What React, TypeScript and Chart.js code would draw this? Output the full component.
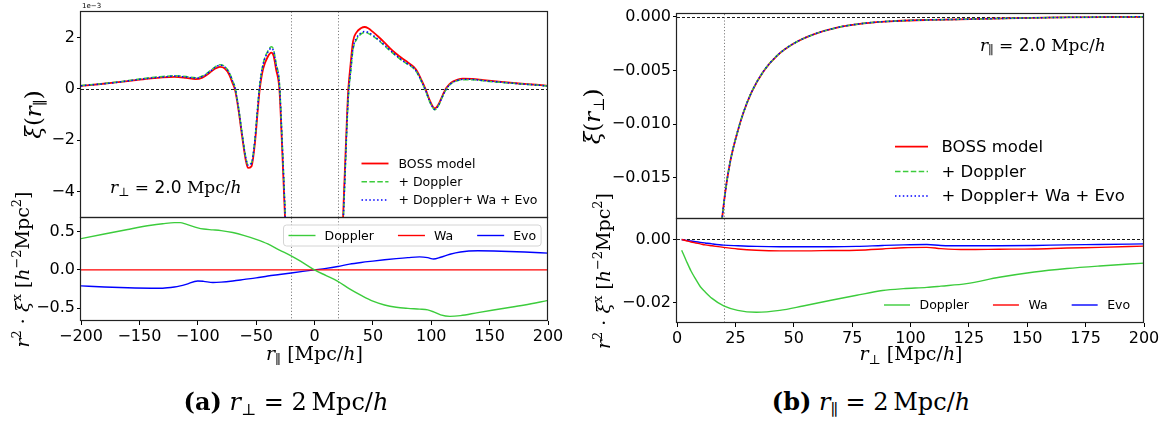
import React, { useEffect, useRef } from "react";
import { Chart, registerables } from "chart.js";

Chart.register(...registerables);
Chart.defaults.font.family = '"DejaVu Sans"';

// ---------- (a) upper panel: xi(r_par) at r_perp = 2 Mpc/h (values x 1e-3) ----------
const parR = [
  -200, -185, -170, -155, -140, -130, -120, -110, -102, -96,
  -90, -85, -81, -77, -73, -70, -68, -65, -62, -59,
  -57, -54, -51, -49, -47, -44, -40, -37, -35, -33,
  -30, -28, -25, -20, -10, 0, 10, 20, 24, 26,
  28, 29, 31, 33, 36, 40, 43, 46, 50, 55,
  60, 65, 70, 75, 80, 85, 88, 91, 95, 99,
  103, 106, 110, 113, 117, 122, 127, 135, 145, 160,
  175, 190, 200,
];
const parBoss = [
  0.12, 0.18, 0.25, 0.33, 0.41, 0.45, 0.47, 0.43, 0.38, 0.44,
  0.62, 0.79, 0.86, 0.8, 0.55, 0.2, -0.05, -0.85, -1.85, -2.75,
  -3.08, -3.02, -2.1, -1.05, -0.05, 0.78, 1.25, 1.41, 1.28, 0.78,
  -0.05, -2.0, -5.3, -12, -30, -40, -30, -12, -5.6, -3.2,
  -0.9, 0.0, 1.0, 1.85, 2.2, 2.37, 2.41, 2.36, 2.22, 2.02,
  1.8, 1.57, 1.37, 1.19, 1.03, 0.86, 0.68, 0.4, 0.0, -0.48,
  -0.76, -0.62, -0.22, 0.04, 0.24, 0.35, 0.4, 0.39, 0.34, 0.27,
  0.21, 0.16, 0.12,
];
const parDoppler = [
  0.13, 0.19, 0.26, 0.35, 0.44, 0.48, 0.51, 0.48, 0.43, 0.5,
  0.68, 0.86, 0.94, 0.88, 0.64, 0.3, 0.05, -0.75, -1.74, -2.63,
  -2.95, -2.88, -1.95, -0.88, 0.13, 0.98, 1.47, 1.64, 1.52, 1.02,
  0.2, -1.7, -5.0, -11.6, -29, -40, -31, -12.4, -6.0, -3.6,
  -1.25, -0.35, 0.65, 1.52, 1.92, 2.14, 2.2, 2.16, 2.05, 1.88,
  1.68, 1.47, 1.28, 1.1, 0.95, 0.79, 0.61, 0.34, -0.06, -0.54,
  -0.81, -0.67, -0.27, -0.01, 0.2, 0.31, 0.36, 0.36, 0.31, 0.25,
  0.2, 0.15, 0.11,
];
const parFull = [
  0.12, 0.18, 0.25, 0.34, 0.42, 0.46, 0.5, 0.46, 0.42, 0.48,
  0.66, 0.84, 0.92, 0.86, 0.62, 0.28, 0.03, -0.77, -1.76, -2.65,
  -2.97, -2.9, -1.97, -0.9, 0.11, 0.95, 1.43, 1.58, 1.46, 0.96,
  0.14, -1.8, -5.1, -11.7, -29, -40, -31, -12.3, -5.9, -3.5,
  -1.15, -0.25, 0.72, 1.58, 1.98, 2.19, 2.24, 2.2, 2.09, 1.91,
  1.71, 1.5, 1.3, 1.12, 0.97, 0.81, 0.63, 0.36, -0.04, -0.52,
  -0.8, -0.66, -0.26, 0.0, 0.21, 0.32, 0.37, 0.37, 0.32, 0.26,
  0.2, 0.15, 0.11,
];

// ---------- (a) lower panel: r^2 xi^x contributions vs r_par ----------
const parDiffR = [
  -200, -180, -160, -140, -130, -120, -115, -110, -100, -95,
  -87, -80, -70, -60, -50, -40, -30, -20, -10, 0,
  10, 20, 30, 40, 50, 60, 70, 80, 90, 97,
  102, 108, 116, 125, 140, 160, 180, 200,
];
const parDiffDoppler = [
  0.41, 0.47, 0.53, 0.585, 0.605, 0.62, 0.62, 0.6, 0.55, 0.535,
  0.525, 0.515, 0.49, 0.45, 0.4, 0.34, 0.26, 0.185, 0.095, 0,
  -0.075, -0.15, -0.25, -0.335, -0.41, -0.46, -0.49, -0.505, -0.515, -0.525,
  -0.55, -0.59, -0.61, -0.6, -0.56, -0.51, -0.46, -0.4,
];
const parDiffWa = [
  0, 0, 0, 0, 0, 0, 0, 0, 0, 0,
  0, 0, 0, 0, 0, 0, 0, 0, 0, 0,
  0, 0, 0, 0, 0, 0, 0, 0, 0, 0,
  0, 0, 0, 0, 0, 0, 0, 0,
];
const parDiffEvo = [
  -0.21, -0.225, -0.235, -0.24, -0.24, -0.225, -0.21, -0.19, -0.145, -0.15,
  -0.165, -0.16, -0.145, -0.125, -0.105, -0.08, -0.06, -0.04, -0.02, 0,
  0.02, 0.045, 0.075, 0.097, 0.115, 0.132, 0.147, 0.16, 0.17, 0.16,
  0.142, 0.165, 0.205, 0.235, 0.25, 0.245, 0.235, 0.22,
];

// ---------- (b) upper panel: xi(r_perp) at r_par = 2 Mpc/h ----------
const perpR = [19.2, 20.7, 22.8, 25.7, 28.5, 32, 37, 43, 50, 58.5, 68.5, 80, 94, 108, 121, 140, 164, 185, 200];
const perpBoss = [
  -0.019, -0.0163, -0.0135, -0.0109, -0.0089, -0.007, -0.0051, -0.0036, -0.0025, -0.00165,
  -0.00102, -0.00062, -0.0004, -0.0003, -0.00025, -0.00016, -0.00007, -0.00003, -0.00001,
];
const perpDoppler = [
  -0.019, -0.0163, -0.0135, -0.0109, -0.0089, -0.007, -0.0051, -0.0036, -0.0025, -0.00165,
  -0.00102, -0.00062, -0.0004, -0.0003, -0.00025, -0.00016, -0.00007, -0.00003, -0.00001,
];
const perpFull = [
  -0.019, -0.0163, -0.0135, -0.0109, -0.0089, -0.007, -0.0051, -0.0036, -0.0025, -0.00165,
  -0.00102, -0.00062, -0.0004, -0.0003, -0.00025, -0.00016, -0.00007, -0.00003, -0.00001,
];

// ---------- (b) lower panel ----------
const perpDiffR = [2, 4, 6, 8, 10, 12, 15, 20, 26, 34, 44, 54, 66, 77, 88, 97, 107, 113, 124, 138, 153, 167, 181, 200];
const perpDiffDoppler = [
  -0.0034, -0.0068, -0.01, -0.0126, -0.015, -0.0166, -0.0187, -0.0211, -0.0225, -0.0231,
  -0.0225, -0.0211, -0.0193, -0.0177, -0.0162, -0.0156, -0.0152, -0.0148, -0.014, -0.012,
  -0.0103, -0.0092, -0.0084, -0.0075,
];
const perpDiffWa = [
  0, -0.0004, -0.0008, -0.0011, -0.0014, -0.0017, -0.002, -0.0025, -0.003, -0.0034,
  -0.0036, -0.0036, -0.0035, -0.0034, -0.003, -0.0026, -0.0025, -0.0029, -0.0032, -0.0031,
  -0.003, -0.0027, -0.0025, -0.0021,
];
const perpDiffEvo = [
  0, -0.0003, -0.0005, -0.0007, -0.0009, -0.0011, -0.0014, -0.0018, -0.002, -0.0022,
  -0.0023, -0.0023, -0.0023, -0.0022, -0.0019, -0.0017, -0.0016, -0.0019, -0.002, -0.002,
  -0.0019, -0.0017, -0.0016, -0.0014,
];

// ---------- ticks and labels ----------
const parXTicks = [-200, -150, -100, -50, 0, 50, 100, 150, 200];
const perpXTicks = [0, 25, 50, 75, 100, 125, 150, 175, 200];
const parTopYTicks = [-4, -2, 0, 2];
const parBotYTicks = [-0.5, 0, 0.5];
const perpTopYTicks = [-0.015, -0.01, -0.005, 0];
const perpBotYTicks = [-0.02, 0];
const topLegend = ["BOSS model", "+ Doppler", "+ Doppler+ Wa + Evo"];
const botLegend = ["Doppler", "Wa", "Evo"];

// ---------- styling ----------
const RED = "#ff0000";
const GREEN = "#3ccc3c";
const BLUE = "#0000ff";
const SERIF = '"DejaVu Serif"';
const SANS = '"DejaVu Sans"';
const fnt = (size: number, italic = false, fam = SERIF) => `${italic ? "italic " : ""}${size}px ${fam}`;
const minus = (s: string) => s.replace("-", "\u2212");

type Seg = { t: string; f: string; dy?: number };
type TextItem = { segs: Seg[]; x: number; y: number; rot?: boolean; align?: "left" | "center" };
type Legend = {
  mode: "col" | "row"; x: number; y: number; lineLen: number; textGap: number;
  rowH?: number; itemGap?: number; font: string; frame?: boolean;
};
type Decor = { hLines: number[]; vLines: number[]; legend: Legend; texts: TextItem[] };
type PanelCfg = {
  left: number; top: number; W: number; H: number;
  plot: { l: number; t: number; r: number; b: number };
  xMin: number; xMax: number; xTicks: number[] | null; xFmt: (v: number) => string;
  yMin: number; yMax: number; yTicks: number[]; yFmt: (v: number) => string;
  datasets: any[]; decor: Decor;
};

const pts = (xs: number[], ys: number[]) => xs.map((x, i) => ({ x, y: ys[i] }));

function topSets(xs: number[], a: number[], b: number[], c: number[]) {
  return [
    { label: topLegend[0], data: pts(xs, a), borderColor: RED, borderWidth: 1.8, borderDash: [], order: 3 },
    { label: topLegend[1], data: pts(xs, b), borderColor: GREEN, borderWidth: 1.5, borderDash: [5.5, 2.4], order: 2 },
    { label: topLegend[2], data: pts(xs, c), borderColor: BLUE, borderWidth: 1.5, borderDash: [1.5, 2.4], order: 1 },
  ].map((d) => ({ ...d, pointRadius: 0, fill: false, cubicInterpolationMode: "monotone" }));
}
function botSets(xs: number[], a: number[], b: number[], c: number[]) {
  return [
    { label: botLegend[0], data: pts(xs, a), borderColor: GREEN, borderWidth: 1.4, borderDash: [] },
    { label: botLegend[1], data: pts(xs, b), borderColor: RED, borderWidth: 1.4, borderDash: [] },
    { label: botLegend[2], data: pts(xs, c), borderColor: BLUE, borderWidth: 1.4, borderDash: [] },
  ].map((d) => ({ ...d, pointRadius: 0, fill: false, cubicInterpolationMode: "monotone" }));
}

function drawSegs(ctx: CanvasRenderingContext2D, it: TextItem) {
  ctx.save();
  ctx.translate(it.x, it.y);
  if (it.rot) ctx.rotate(-Math.PI / 2);
  ctx.fillStyle = "#000";
  ctx.textBaseline = "alphabetic";
  ctx.textAlign = "left";
  let total = 0;
  for (const s of it.segs) { ctx.font = s.f; total += ctx.measureText(s.t).width; }
  let cx = it.align === "center" ? -total / 2 : 0;
  for (const s of it.segs) {
    ctx.font = s.f;
    ctx.fillText(s.t, cx, s.dy || 0);
    cx += ctx.measureText(s.t).width;
  }
  ctx.restore();
}

function makeDecor(cfg: PanelCfg) {
  const d = cfg.decor;
  return {
    id: "decor",
    beforeDatasetsDraw(chart: any) {
      const { ctx, chartArea: a } = chart;
      const xs = chart.scales.x, ys = chart.scales.y;
      ctx.save();
      ctx.beginPath();
      ctx.rect(a.left, a.top, a.right - a.left, a.bottom - a.top);
      ctx.clip();
      for (const v of d.hLines) {
        const py = Math.round(ys.getPixelForValue(v)) + 0.5;
        ctx.beginPath();
        ctx.setLineDash([3, 2]);
        ctx.strokeStyle = "#000";
        ctx.lineWidth = 0.9;
        ctx.moveTo(a.left, py);
        ctx.lineTo(a.right, py);
        ctx.stroke();
      }
      for (const v of d.vLines) {
        const px = Math.round(xs.getPixelForValue(v)) + 0.5;
        ctx.beginPath();
        ctx.setLineDash([1.2, 2]);
        ctx.strokeStyle = "#808080";
        ctx.lineWidth = 1;
        ctx.moveTo(px, a.top);
        ctx.lineTo(px, a.bottom);
        ctx.stroke();
      }
      ctx.restore();
    },
    afterDraw(chart: any) {
      const { ctx, chartArea: a } = chart;
      ctx.save();
      // frame (all edges on the same half-pixel convention so shared edges coincide)
      ctx.setLineDash([]);
      ctx.strokeStyle = "#222";
      ctx.lineWidth = 1.2;
      const L = Math.round(a.left) - 0.5, T = Math.round(a.top) - 0.5;
      const R = Math.round(a.right) - 0.5, B = Math.round(a.bottom) - 0.5;
      ctx.strokeRect(L, T, R - L, B - T);
      // move to absolute page coordinates
      ctx.translate(-cfg.left, -cfg.top);
      // legend
      const lg = d.legend;
      const items = chart.data.datasets;
      ctx.font = lg.font;
      ctx.textBaseline = "middle";
      ctx.textAlign = "left";
      if (lg.frame) {
        let w = 0;
        items.forEach((it: any, i: number) => {
          w += lg.lineLen + lg.textGap + ctx.measureText(it.label).width + (i < items.length - 1 ? lg.itemGap || 0 : 0);
        });
        const fx = lg.x - 5, fy = lg.y - 10.5, fw = w + 10, fh = 21, r = 3;
        ctx.beginPath();
        ctx.moveTo(fx + r, fy);
        ctx.arcTo(fx + fw, fy, fx + fw, fy + fh, r);
        ctx.arcTo(fx + fw, fy + fh, fx, fy + fh, r);
        ctx.arcTo(fx, fy + fh, fx, fy, r);
        ctx.arcTo(fx, fy, fx + fw, fy, r);
        ctx.closePath();
        ctx.fillStyle = "rgba(255,255,255,0.8)";
        ctx.fill();
        ctx.strokeStyle = "#d4d4d4";
        ctx.lineWidth = 1;
        ctx.stroke();
      }
      let x = lg.x, y = lg.y;
      items.forEach((it: any) => {
        ctx.beginPath();
        ctx.setLineDash(it.borderDash || []);
        ctx.strokeStyle = it.borderColor;
        ctx.lineWidth = it.borderWidth;
        ctx.moveTo(x, y);
        ctx.lineTo(x + lg.lineLen, y);
        ctx.stroke();
        ctx.setLineDash([]);
        ctx.fillStyle = "#000";
        ctx.fillText(it.label, x + lg.lineLen + lg.textGap, y + 1);
        if (lg.mode === "row") x += lg.lineLen + lg.textGap + ctx.measureText(it.label).width + (lg.itemGap || 0);
        else y += lg.rowH || 18;
      });
      for (const t of d.texts) drawSegs(ctx, t);
      ctx.restore();
    },
  };
}

function buildConfig(cfg: PanelCfg): any {
  const showX = !!cfg.xTicks;
  const l = cfg.plot.l - cfg.left, t = cfg.plot.t - cfg.top;
  const r = cfg.plot.r - cfg.left, b = cfg.plot.b - cfg.top;
  const tickFont = { family: '"DejaVu Sans"', size: 16 };
  const grid = { display: true, drawOnChartArea: false, drawTicks: true, tickLength: 4, color: "#000", lineWidth: 1 };
  return {
    type: "line",
    data: { datasets: cfg.datasets },
    options: {
      animation: false,
      responsive: false,
      maintainAspectRatio: false,
      events: [],
      layout: { padding: { left: 0, top: t, right: cfg.W - r, bottom: showX ? 0 : cfg.H - b } },
      plugins: { legend: { display: false }, tooltip: { enabled: false } },
      scales: {
        x: {
          type: "linear", min: cfg.xMin, max: cfg.xMax, display: showX,
          afterBuildTicks: (s: any) => { s.ticks = (cfg.xTicks || []).map((v) => ({ value: v })); },
          afterFit: (s: any) => { s.height = showX ? cfg.H - b : 0; },
          ticks: { font: tickFont, color: "#000", padding: 2, maxRotation: 0, autoSkip: false, callback: (v: any) => cfg.xFmt(Number(v)) },
          grid, border: { display: false },
        },
        y: {
          type: "linear", min: cfg.yMin, max: cfg.yMax,
          afterBuildTicks: (s: any) => { s.ticks = cfg.yTicks.map((v) => ({ value: v })); },
          afterFit: (s: any) => { s.width = l; },
          ticks: { font: tickFont, color: "#000", padding: 2, autoSkip: false, callback: (v: any) => cfg.yFmt(Number(v)) },
          grid, border: { display: false },
        },
      },
    },
    plugins: [makeDecor(cfg)],
  };
}

// ---------- text pieces ----------
const annot = (sub: string, x: number, y: number): TextItem => ({
  x, y, segs: [
    { t: "r", f: fnt(17, true) }, { t: sub, f: fnt(12), dy: 3 }, { t: " = ", f: fnt(17) },
    { t: "2.0", f: fnt(17, false, SANS) }, { t: " Mpc/", f: fnt(17) }, { t: "h", f: fnt(17, true) },
  ],
});
const xiTitle = (sub: string, x: number, y: number): TextItem => ({
  x, y, rot: true, align: "center", segs: [
    { t: "\u03be", f: fnt(23, true) }, { t: "(", f: fnt(23) }, { t: "r", f: fnt(23, true) },
    { t: sub, f: fnt(15), dy: 4 }, { t: ")", f: fnt(23) },
  ],
});
const diffTitle = (x: number, y: number): TextItem => ({
  x, y, rot: true, align: "center", segs: [
    { t: "r", f: fnt(19, true) }, { t: "2", f: fnt(13), dy: -8 }, { t: " \u00b7 ", f: fnt(19) },
    { t: "\u03be", f: fnt(19, true) }, { t: "x", f: fnt(13), dy: -8 }, { t: " [", f: fnt(19) },
    { t: "h", f: fnt(19, true) }, { t: "\u22122", f: fnt(13), dy: -8 }, { t: "Mpc", f: fnt(19) },
    { t: "2", f: fnt(13), dy: -8 }, { t: "]", f: fnt(19) },
  ],
});
const xTitle = (sub: string, x: number, y: number): TextItem => ({
  x, y, align: "center", segs: [
    { t: "r", f: fnt(19, true) }, { t: sub, f: fnt(13), dy: 4 }, { t: " [Mpc/", f: fnt(19) },
    { t: "h", f: fnt(19, true) }, { t: "]", f: fnt(19) },
  ],
});

const panels: PanelCfg[] = [
  {
    left: 0, top: 0, W: 580, H: 232, plot: { l: 81, t: 11, r: 548, b: 218 },
    xMin: -200, xMax: 200, xTicks: null, xFmt: (v) => minus(String(v)),
    yMin: -5.03, yMax: 3.01, yTicks: parTopYTicks, yFmt: (v) => minus(String(v)),
    datasets: topSets(parR, parBoss, parDoppler, parFull),
    decor: {
      hLines: [0], vLines: [-20, 20],
      legend: { mode: "col", x: 361.5, y: 163.5, rowH: 18.3, lineLen: 27, textGap: 10, font: fnt(12.5, false, SANS) },
      texts: [
        annot("\u22a5", 110, 193),
        xiTitle("\u2225", 41, 114.5),
        { x: 82, y: 8, segs: [{ t: "1e\u22123", f: fnt(7, false, SANS) }] },
      ],
    },
  },
  {
    left: 0, top: 150, W: 580, H: 230, plot: { l: 81, t: 218, r: 548, b: 321 },
    xMin: -200, xMax: 200, xTicks: parXTicks, xFmt: (v) => minus(String(v)),
    yMin: -0.67, yMax: 0.68, yTicks: parBotYTicks, yFmt: (v) => minus(v.toFixed(1)),
    datasets: botSets(parDiffR, parDiffDoppler, parDiffWa, parDiffEvo),
    decor: {
      hLines: [], vLines: [-20, 20],
      legend: { mode: "row", x: 288.5, y: 235.5, lineLen: 27, textGap: 9, itemGap: 24, font: fnt(12.5, false, SANS), frame: true },
      texts: [diffTitle(29, 269.5), xTitle("\u2225", 314.5, 360)],
    },
  },
  {
    left: 560, top: 0, W: 612, H: 232, plot: { l: 677, t: 14, r: 1144, b: 219 },
    xMin: 0, xMax: 200, xTicks: null, xFmt: (v) => String(v),
    yMin: -0.01885, yMax: 0.00025, yTicks: perpTopYTicks, yFmt: (v) => minus(v.toFixed(3)),
    datasets: topSets(perpR, perpBoss, perpDoppler, perpFull),
    decor: {
      hLines: [0], vLines: [20],
      legend: { mode: "col", x: 895, y: 146.7, rowH: 24.7, lineLen: 33, textGap: 13.5, font: fnt(16.5, false, SANS) },
      texts: [annot("\u2225", 980, 51), xiTitle("\u22a5", 600, 116.5)],
    },
  },
  {
    left: 560, top: 150, W: 612, H: 230, plot: { l: 677, t: 219, r: 1144, b: 323 },
    xMin: 0, xMax: 200, xTicks: perpXTicks, xFmt: (v) => String(v),
    yMin: -0.0265, yMax: 0.0065, yTicks: perpBotYTicks, yFmt: (v) => minus(v.toFixed(2)),
    datasets: botSets(perpDiffR, perpDiffDoppler, perpDiffWa, perpDiffEvo),
    decor: {
      hLines: [0], vLines: [20],
      legend: { mode: "row", x: 884, y: 305, lineLen: 26, textGap: 9.5, itemGap: 24, font: fnt(12.5, false, SANS) },
      texts: [diffTitle(610, 271), xTitle("\u22a5", 911, 360)],
    },
  },
];

function ChartCanvas({ cfg }: { cfg: PanelCfg }) {
  const ref = useRef<HTMLCanvasElement>(null);
  useEffect(() => {
    const chart = new Chart(ref.current as HTMLCanvasElement, buildConfig(cfg));
    return () => chart.destroy();
  }, [cfg]);
  return (
    <canvas
      ref={ref}
      width={cfg.W}
      height={cfg.H}
      style={{ position: "absolute", left: cfg.left, top: cfg.top, width: cfg.W, height: cfg.H }}
    />
  );
}

function Caption({ tag, sub, center }: { tag: string; sub: string; center: number }) {
  return (
    <div
      style={{
        position: "absolute", left: center - 200, width: 400, top: 387, textAlign: "center",
        fontFamily: SERIF, fontSize: 24, lineHeight: "30px", whiteSpace: "nowrap", color: "#000",
      }}
    >
      <b>{tag}</b> <i>r</i>
      <span style={{ fontSize: 16, position: "relative", top: 5 }}>{sub}</span> = 2{"\u2009"}Mpc/<i>h</i>
    </div>
  );
}

export default function App() {
  useEffect(() => {
    document.body.style.margin = "0";
  }, []);
  return (
    <div style={{ position: "relative", width: 1172, height: 421, overflow: "hidden", background: "#fff" }}>
      {panels.map((p, i) => (
        <ChartCanvas key={i} cfg={p} />
      ))}
      <Caption tag="(a)" sub={"\u22a5"} center={286} />
      <Caption tag="(b)" sub={"\u2225"} center={871} />
    </div>
  );
}
